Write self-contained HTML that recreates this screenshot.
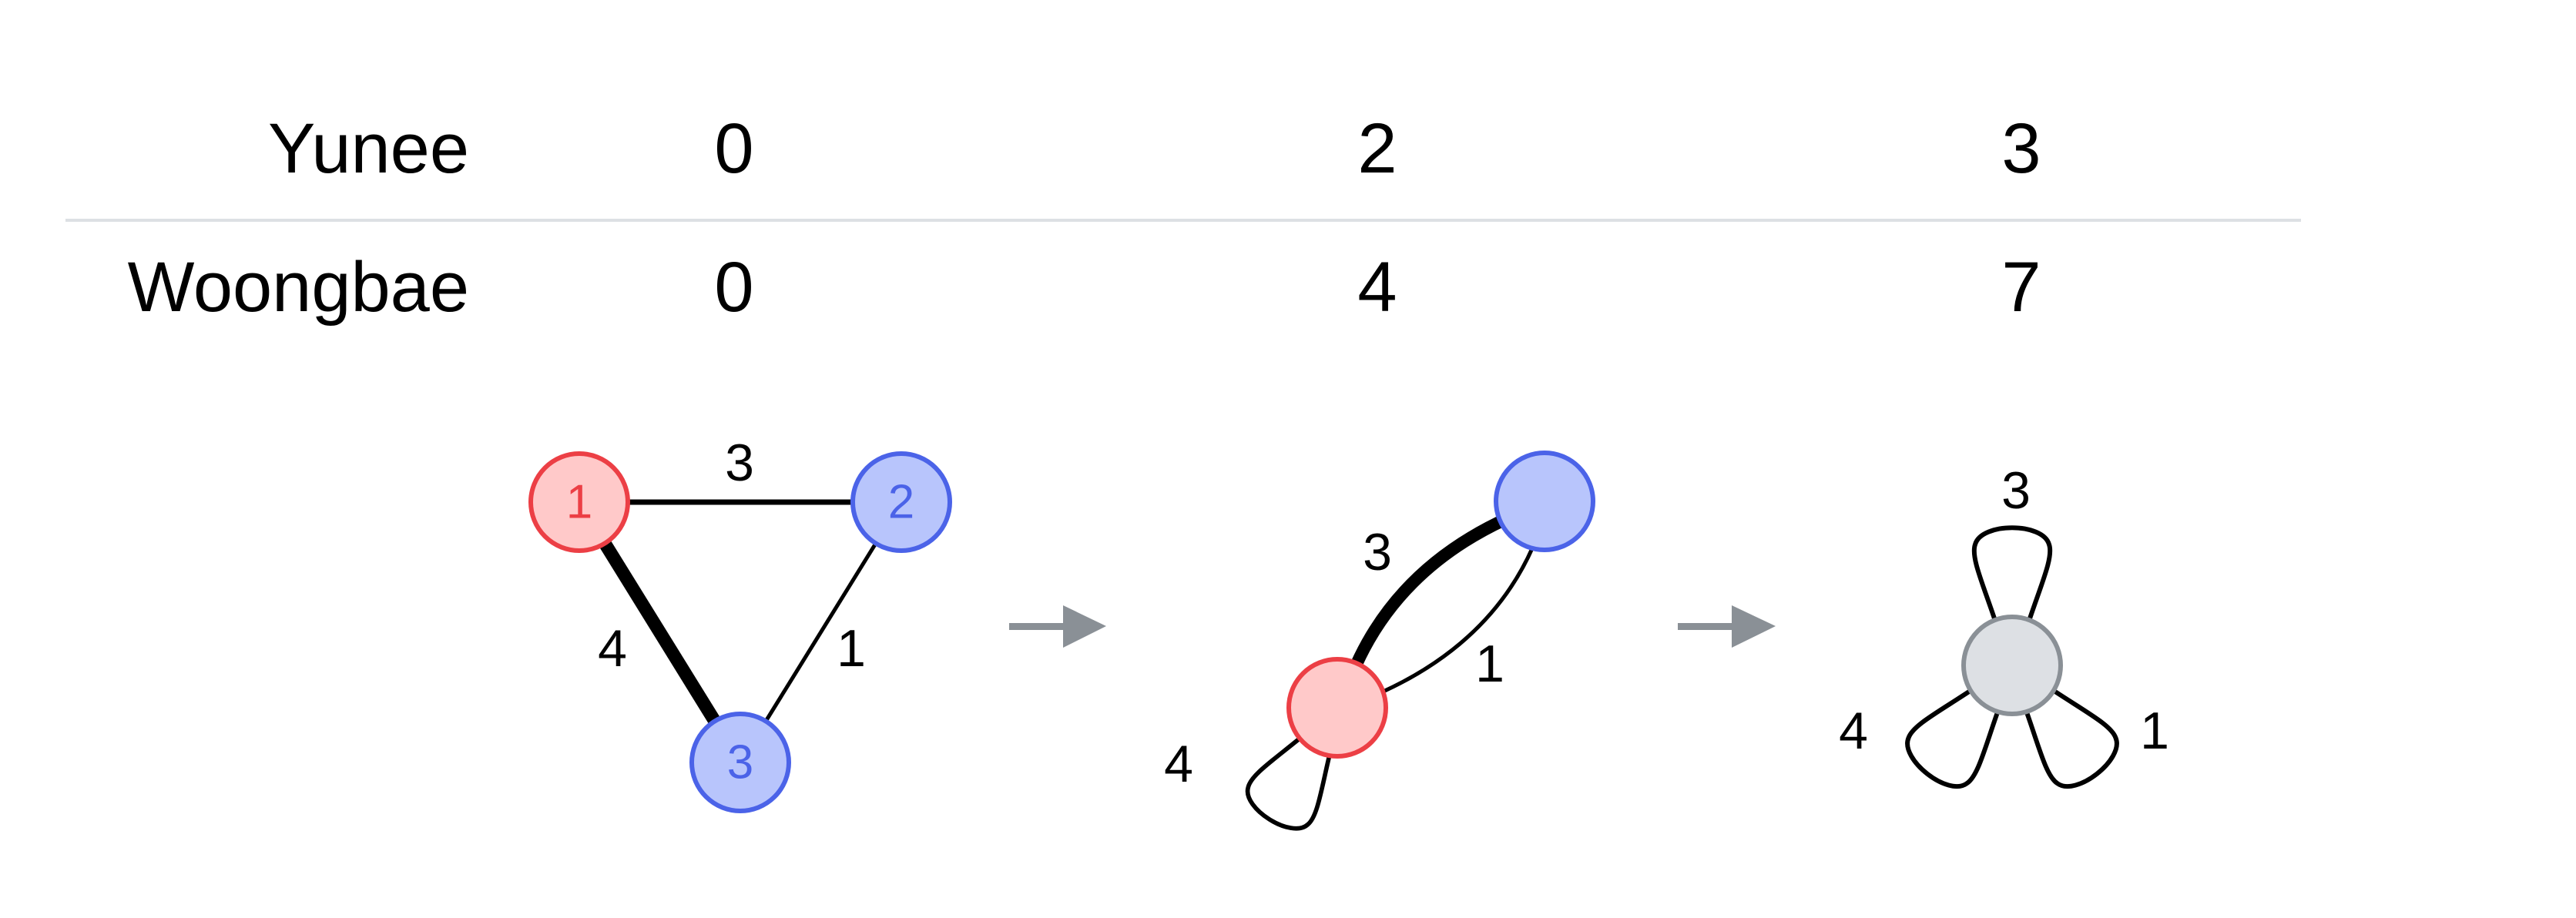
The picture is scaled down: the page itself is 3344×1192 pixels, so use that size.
<!DOCTYPE html>
<html><head><meta charset="utf-8"><style>
html,body{margin:0;padding:0;background:#fff;}
svg{display:block;}
text{font-family:"Liberation Sans",sans-serif;}
</style></head><body>
<svg width="3344" height="1192" viewBox="0 0 3344 1192" xmlns="http://www.w3.org/2000/svg">
<defs>
<path id="petal" d="M-20 -52 C-37 -104 -54 -140 -48 -157 C-40 -186 40 -186 48 -157 C54 -140 37 -104 20 -52" fill="none" stroke="#000" stroke-width="6"/>
</defs>
<rect width="3344" height="1192" fill="#fff"/>
<g font-size="92" fill="#000">
<text x="609" y="224" text-anchor="end">Yunee</text>
<text x="953" y="224" text-anchor="middle">0</text>
<text x="1788" y="224" text-anchor="middle">2</text>
<text x="2624" y="224" text-anchor="middle">3</text>
<text x="609" y="404" text-anchor="end">Woongbae</text>
<text x="953" y="404" text-anchor="middle">0</text>
<text x="1788" y="404" text-anchor="middle">4</text>
<text x="2624" y="404" text-anchor="middle">7</text>
</g>
<rect x="85" y="284" width="2902" height="4" fill="#dde0e4"/>

<!-- graph 1 -->
<line x1="752" y1="652" x2="1170" y2="652" stroke="#000" stroke-width="7"/>
<line x1="752" y1="652" x2="961" y2="990" stroke="#000" stroke-width="17"/>
<line x1="1170" y1="652" x2="961" y2="990" stroke="#000" stroke-width="5"/>
<g font-size="68" text-anchor="middle" dominant-baseline="central">
<text x="960" y="601">3</text>
<text x="795" y="842">4</text>
<text x="1105" y="842">1</text>
</g>
<circle cx="752" cy="652" r="63" fill="#ffc9c9" stroke="#ec3f45" stroke-width="6"/>
<circle cx="1170" cy="652" r="63" fill="#b8c5fc" stroke="#4b63e8" stroke-width="6"/>
<circle cx="961" cy="990" r="63" fill="#b8c5fc" stroke="#4b63e8" stroke-width="6"/>
<g font-size="62" text-anchor="middle" dominant-baseline="central">
<text x="752" y="652" fill="#ec3f45">1</text>
<text x="1170" y="652" fill="#4b63e8">2</text>
<text x="961" y="990" fill="#4b63e8">3</text>
</g>

<!-- arrows -->
<g fill="#8a9096">
<rect x="1310" y="809" width="75" height="9"/>
<polygon points="1380,786 1436,813 1380,841"/>
<rect x="2178" y="809" width="75" height="9"/>
<polygon points="2248,786 2305,813 2248,841"/>
</g>

<!-- graph 2 -->
<path d="M1740 920 Q1795 725 2010 652" fill="none" stroke="#000" stroke-width="16"/>
<path d="M1740 920 Q1960 845 2010 652" fill="none" stroke="#000" stroke-width="5"/>
<use href="#petal" transform="translate(1738 920) rotate(-148) scale(0.95)"/>
<g font-size="68" text-anchor="middle" dominant-baseline="central">
<text x="1788" y="717">3</text>
<text x="1934" y="862">1</text>
<text x="1530" y="992">4</text>
</g>
<circle cx="2005" cy="651" r="63" fill="#b8c5fc" stroke="#4b63e8" stroke-width="6"/>
<circle cx="1736" cy="919" r="63" fill="#ffc9c9" stroke="#ec3f45" stroke-width="6"/>

<!-- graph 3 -->
<use href="#petal" transform="translate(2612 864)"/>
<use href="#petal" transform="translate(2612 864) rotate(-142)"/>
<use href="#petal" transform="translate(2612 864) rotate(142)"/>
<circle cx="2612" cy="864" r="63" fill="#dde0e4" stroke="#8a9096" stroke-width="6"/>
<g font-size="68" text-anchor="middle" dominant-baseline="central">
<text x="2617" y="637">3</text>
<text x="2406" y="949">4</text>
<text x="2797" y="949">1</text>
</g>
</svg>
</body></html>
